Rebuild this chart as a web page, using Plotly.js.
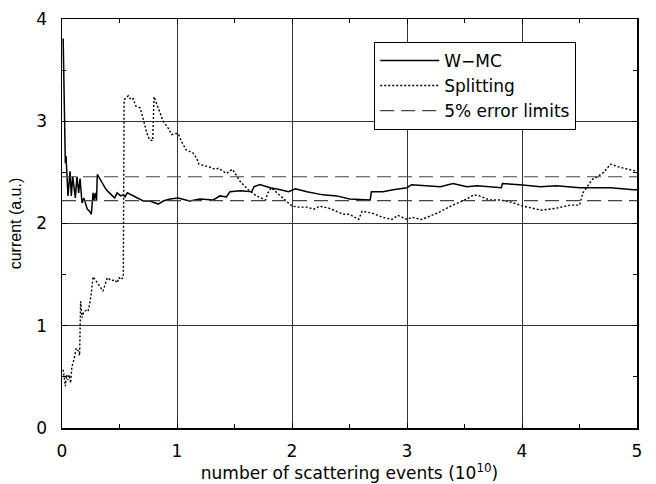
<!DOCTYPE html>
<html>
<head>
<meta charset="utf-8">
<script src="https://cdn.plot.ly/plotly-3.0.1.min.js"></script>
<style>html,body{margin:0;padding:0;background:#fff;}#chart{width:656px;height:484px;}</style>
</head>
<body>
<div id="chart"></div>
<script>
// W-MC series
const wmcX = [0.01,0.017,0.023,0.029,0.035,0.052,0.07,0.081,0.093,0.116,0.13,0.145,0.157,0.174,0.19,0.203,0.22,0.24,0.255,0.27,0.278,0.29,0.30,0.307,0.318,0.357,0.385,0.43,0.458,0.48,0.51,0.533,0.548,0.568,0.606,0.65,0.707,0.765,0.837,0.88,0.94,1.01,1.07,1.11,1.2,1.316,1.374,1.43,1.46,1.55,1.65,1.67,1.72,1.81,1.9,1.97,2.03,2.13,2.27,2.39,2.50,2.65,2.68,2.69,2.79,2.88,3.0,3.04,3.14,3.29,3.40,3.52,3.61,3.72,3.82,3.83,3.98,4.16,4.30,4.50,4.77,4.97,5.0];
const wmcY = [3.81,3.2,2.69,2.59,2.66,2.27,2.51,2.27,2.46,2.25,2.46,2.30,2.44,2.20,2.25,2.19,2.14,2.12,2.09,2.30,2.23,2.30,2.22,2.48,2.46,2.38,2.33,2.28,2.25,2.30,2.27,2.28,2.26,2.30,2.28,2.25,2.22,2.22,2.19,2.22,2.24,2.25,2.23,2.22,2.24,2.23,2.27,2.26,2.31,2.32,2.31,2.36,2.38,2.35,2.33,2.31,2.34,2.31,2.28,2.27,2.24,2.23,2.23,2.31,2.31,2.33,2.35,2.38,2.37,2.36,2.39,2.36,2.37,2.36,2.35,2.39,2.38,2.36,2.37,2.35,2.35,2.33,2.33];

// Splitting series
const splitX = [0.01,0.017,0.029,0.04,0.052,0.062,0.075,0.086,0.104,0.124,0.145,0.153,0.157,0.162,0.174,0.19,0.21,0.226,0.24,0.255,0.27,0.30,0.328,0.357,0.394,0.43,0.458,0.48,0.496,0.516,0.533,0.54,0.557,0.577,0.60,0.62,0.64,0.68,0.707,0.736,0.76,0.789,0.80,0.823,0.85,0.88,0.925,0.954,0.98,1.01,1.04,1.08,1.14,1.17,1.19,1.26,1.29,1.33,1.36,1.43,1.48,1.50,1.55,1.62,1.69,1.77,1.79,1.82,1.88,1.94,2.00,2.06,2.13,2.19,2.24,2.32,2.39,2.45,2.50,2.58,2.61,2.70,2.79,2.87,2.92,3.00,3.04,3.13,3.26,3.40,3.52,3.58,3.63,3.72,3.81,3.90,4.01,4.10,4.17,4.30,4.42,4.50,4.53,4.61,4.66,4.71,4.77,4.85,4.94,5.00];
const splitY = [0.57,0.49,0.41,0.52,0.47,0.52,0.44,0.60,0.67,0.78,0.75,0.71,0.99,1.24,1.08,1.14,1.15,1.14,1.21,1.32,1.48,1.43,1.38,1.34,1.47,1.44,1.45,1.42,1.47,1.45,1.48,3.21,3.23,3.25,3.21,3.22,3.15,3.13,3.02,2.89,2.82,2.81,3.24,3.17,3.08,3.00,2.93,2.87,2.88,2.88,2.80,2.72,2.69,2.64,2.58,2.56,2.55,2.53,2.54,2.49,2.53,2.50,2.41,2.33,2.27,2.23,2.30,2.35,2.29,2.23,2.17,2.16,2.16,2.14,2.17,2.15,2.12,2.09,2.09,2.04,2.12,2.10,2.06,2.04,2.08,2.04,2.06,2.04,2.10,2.18,2.24,2.28,2.27,2.23,2.23,2.21,2.17,2.15,2.13,2.15,2.18,2.18,2.30,2.43,2.46,2.50,2.58,2.55,2.53,2.51];

// 5% error limits
const limitX = [0, 5];
const upperLimit = [2.457, 2.457];
const lowerLimit = [2.223, 2.223];

const xTicks = [0,1,2,3,4,5];
const yTicks = [0,1,2,3,4];

const WIDE = 'DejaVu Sans, Verdana, sans-serif';
const NARROW = 'Liberation Sans, Arial, Helvetica, sans-serif';

const traces = [
  {x: wmcX, y: wmcY, mode: 'lines', name: 'W\u2212MC', line: {color: '#000', width: 1.5}},
  {x: splitX, y: splitY, mode: 'lines', name: 'Splitting', line: {color: '#000', width: 1.4, dash: '2px,2px'}},
  {x: limitX, y: upperLimit, mode: 'lines', name: '5% error limits', line: {color: '#444', width: 1.2, dash: '14px,7px'}},
  {x: limitX, y: lowerLimit, mode: 'lines', name: '5% error limits', showlegend: false, line: {color: '#444', width: 1.2, dash: '14px,7px'}}
];

const axisCommon = {
  showline: true, linecolor: '#000', linewidth: 1.5, mirror: 'allticks',
  ticks: 'inside', ticklen: 5, tickcolor: '#000',
  showgrid: true, gridcolor: '#333', gridwidth: 1,
  zeroline: false,
  tickfont: {family: WIDE, size: 17, color: '#000'},
  minor: {dtick: 0.5, ticks: 'inside', ticklen: 4, tickcolor: '#000', showgrid: false}
};

const layout = {
  width: 656, height: 484,
  margin: {l: 62, r: 19, t: 19, b: 56},
  paper_bgcolor: '#fff', plot_bgcolor: '#fff',
  font: {family: WIDE, size: 17, color: '#000'},
  xaxis: Object.assign({}, axisCommon, {
    range: [0, 5], tickvals: xTicks, ticktext: xTicks.map(String),
    ticklabelstandoff: 7,
    title: {text: 'number of scattering events (10<sup>10</sup>)', font: {family: WIDE, size: 17}, standoff: 2}
  }),
  yaxis: Object.assign({}, axisCommon, {
    range: [0, 4], tickvals: yTicks, ticktext: yTicks.map(String),
    ticklabelstandoff: 10,
    title: {text: 'current (a.u.)', font: {family: NARROW, size: 16}, standoff: 10}
  }),
  legend: {
    x: 0.543, y: 0.944, xanchor: 'left', yanchor: 'top',
    bgcolor: '#fff', bordercolor: '#000', borderwidth: 1,
    font: {family: WIDE, size: 17, color: '#000'},
    itemwidth: 59,
    tracegroupgap: 0
  },
  showlegend: true
};

Plotly.newPlot('chart', traces, layout, {displayModeBar: false, staticPlot: true});
</script>
</body>
</html>
